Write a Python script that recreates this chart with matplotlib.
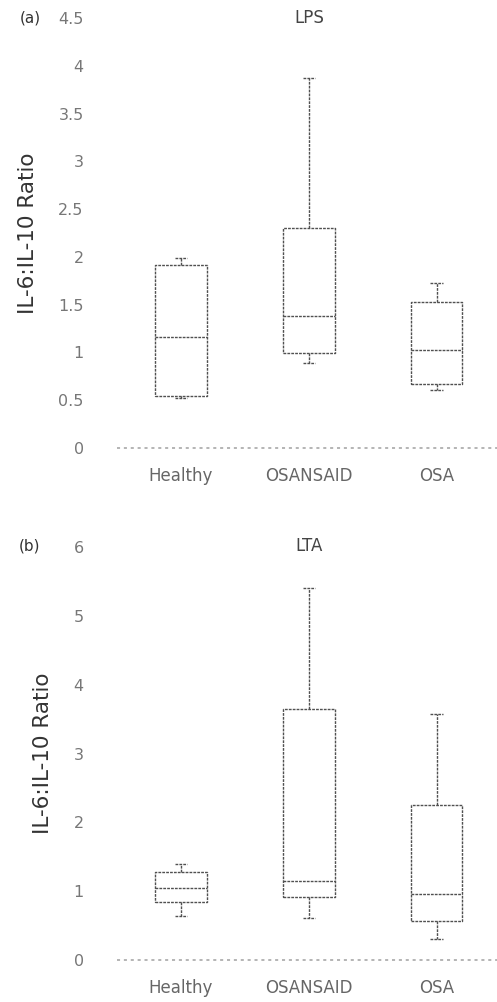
import matplotlib
matplotlib.use("Agg")
import matplotlib.pyplot as plt

categories = ["Healthy", "OSANSAID", "OSA"]

# Panel (a) LPS
lps_whislo = [0.52, 0.89, 0.61]
lps_q1 = [0.54, 0.99, 0.67]
lps_med = [1.16, 1.38, 1.03]
lps_q3 = [1.92, 2.30, 1.53]
lps_whishi = [1.99, 3.87, 1.73]
lps_ticks = [0, 0.5, 1, 1.5, 2, 2.5, 3, 3.5, 4, 4.5]
lps_ticklabels = ["0", "0.5", "1", "1.5", "2", "2.5", "3", "3.5", "4", "4.5"]

# Panel (b) LTA
lta_whislo = [0.64, 0.61, 0.30]
lta_q1 = [0.84, 0.92, 0.57]
lta_med = [1.04, 1.15, 0.96]
lta_q3 = [1.28, 3.65, 2.25]
lta_whishi = [1.39, 5.41, 3.58]
lta_ticks = [0, 1, 2, 3, 4, 5, 6]
lta_ticklabels = ["0", "1", "2", "3", "4", "5", "6"]

fig = plt.figure(figsize=(4.97, 10.02), dpi=100)

LINE = dict(color="#505050", linewidth=1.0, linestyle=(0, (2, 0.8)))


def panel(rect, whislo, q1, med, q3, whishi, ticks, ticklabels, title, tag, ylab_x, tag_y):
    ax = fig.add_axes(rect)
    stats = []
    for i, c in enumerate(categories):
        stats.append(dict(label=c, whislo=whislo[i], q1=q1[i], med=med[i],
                          q3=q3[i], whishi=whishi[i], fliers=[]))
    ax.bxp(stats, positions=range(len(categories)), widths=0.4, capwidths=0.1,
           showfliers=False, boxprops=LINE, whiskerprops=LINE, capprops=LINE,
           medianprops=LINE)
    ax.axhline(0, color="#a0a0a0", linewidth=1.1, linestyle=(0, (2, 2.5)),
               zorder=0, clip_on=False)
    ax.set_xlim(-0.5, 2.47)
    ax.set_ylim(0, ticks[-1])
    ax.set_yticks(ticks)
    ax.set_yticklabels(ticklabels)
    for s in ax.spines.values():
        s.set_visible(False)
    ax.tick_params(axis="y", length=0, pad=24, labelsize=11.5, labelcolor="#777777")
    ax.tick_params(axis="x", length=0, pad=14, labelsize=12, labelcolor="#666666")
    ax.set_ylabel("IL-6:IL-10 Ratio", fontsize=15.5, color="#333333")
    ax.yaxis.set_label_coords(ylab_x, 0.5)
    fig.text(0.06, tag_y, tag, fontsize=11, color="#333333", ha="center", va="center")
    xc = rect[0] + rect[2] * ((1 + 0.5) / 2.97)
    fig.text(xc, tag_y, title, fontsize=12, color="#444444", ha="center", va="center")
    return ax


panel([0.2354, 0.5529, 0.7646, 0.4291], lps_whislo, lps_q1, lps_med, lps_q3, lps_whishi,
      lps_ticks, lps_ticklabels, "LPS", "(a)", -0.209, 1 - 18 / 1002)
panel([0.2354, 0.0419, 0.7646, 0.4122], lta_whislo, lta_q1, lta_med, lta_q3, lta_whishi,
      lta_ticks, lta_ticklabels, "LTA", "(b)", -0.169, 1 - 546 / 1002)

fig.savefig("out.png", dpi=100)
